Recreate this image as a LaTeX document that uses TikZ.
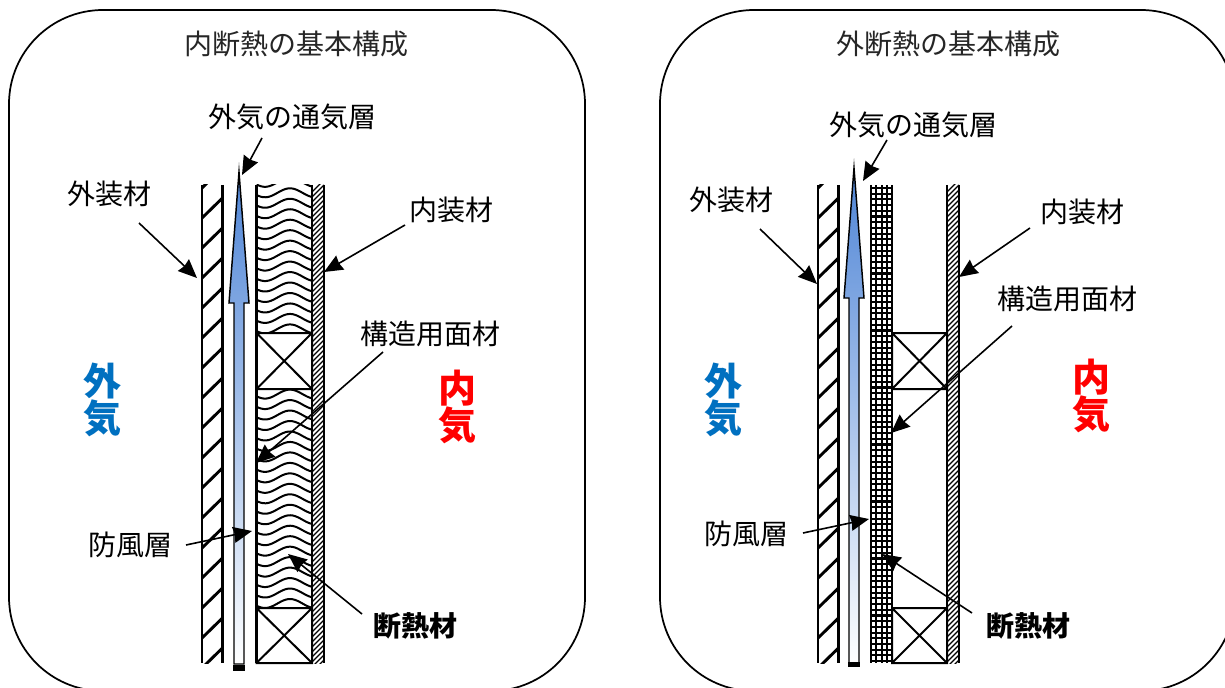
\documentclass[tikz,border=0pt]{standalone}
\usepackage{fontspec}
\setmainfont{Noto Sans CJK JP}
\usetikzlibrary{arrows.meta}
\definecolor{airblue}{RGB}{79,133,214}
\definecolor{sideblue}{RGB}{0,112,192}
\tikzset{
  panel/.style={draw=black,line width=1.3pt,rounded corners=70.5pt},
  wall/.style={line width=2.1pt,black},
  slash/.style={line width=2.2pt,black},
  fine/.style={line width=1.0pt,black},
  wave/.style={line width=1.5pt,black,line join=round},
  cross/.style={line width=1.5pt,black},
  mesh/.style={line width=1.55pt,black},
  ptr/.style={line width=1.2pt,black,-{Stealth[length=14pt,width=12pt,inset=1pt]}},
  title/.style={inner sep=0pt,font=\fontsize{21pt}{24pt}\selectfont,text=black!85},
  label/.style={inner sep=0pt,font=\fontsize{21pt}{24pt}\selectfont},
  boldlabel/.style={inner sep=0pt,font=\fontsize{21pt}{24pt}\selectfont\bfseries},
  side/.style={inner sep=0pt,align=center,text width=40pt,font=\fontsize{28.5pt}{27pt}\selectfont\bfseries},
  air/.style={draw=black,line width=1.1pt,miter limit=20,shade,top color=airblue,bottom color=white,shading angle=0}
}
\newcommand{\outerwall}[1]{% #1 = left x
  \draw[wall] (#1,185) -- (#1,663) (#1+20.5,185) -- (#1+20.5,663);
  \begin{scope}
    \clip (#1,185) rectangle (#1+20.5,663);
    \foreach \k in {-1,...,15} {\draw[slash] (#1,218+30*\k) -- (#1+20.5,198+30*\k);}
  \end{scope}
}
\newcommand{\innerboard}[1]{% #1 = left x
  \draw[wall] (#1,185) -- (#1,663) (#1+12,185) -- (#1+12,663);
  \begin{scope}
    \clip (#1,185) rectangle (#1+12,663);
    \foreach \k in {-1,...,96} {\draw[fine] (#1,197+5*\k) -- (#1+12,185+5*\k);}
  \end{scope}
}
\newcommand{\stud}[4]{% left, right, top, bottom
  \draw[cross] (#1,#3) rectangle (#2,#4) (#1,#3) -- (#2,#4) (#1,#4) -- (#2,#3);
}
\newcommand{\airarrow}[3]{% centre x, tip y, head base y
  \path[air] (#1,#2) -- (#1+10,#3) -- (#1+5,#3) -- (#1+5,664) -- (#1-5,664) -- (#1-5,#3) -- (#1-10,#3) -- cycle;
}
\begin{document}
\begin{tikzpicture}[x=0.75pt,y=-0.75pt]
\clip (0,0) rectangle (1225,688);
\fill[white] (0,0) rectangle (1225,688);
\draw[panel] (9,10) rectangle (585,691);
\draw[panel] (660,10) rectangle (1235,691);

% ---------- left: inner insulation
\outerwall{202}
\draw[wall] (256.5,185) -- (256.5,663);
\begin{scope}
  \clip (256.5,185) rectangle (312,333);
  \foreach \k in {-1,...,14} {
    \draw[wave] plot[smooth,domain=256.5:312,samples=24] (\x,{188.3+4.5+10.47*\k-4.5*cos(7.2*(\x-290))});
  }
\end{scope}
\begin{scope}
  \clip (256.5,389) rectangle (312,608);
  \foreach \k in {0,...,21} {
    \draw[wave] plot[smooth,domain=256.5:312,samples=24] (\x,{599+4.5-10.47*\k-4.5*cos(7.2*(\x-290))});
  }
\end{scope}
\stud{256.5}{312}{333}{389}
\stud{256.5}{312}{608}{663}
\innerboard{312}
\airarrow{239}{172}{303}
\fill[black] (233,665) rectangle (245,670.5);

% ---------- right: outer insulation
\outerwall{818}
\foreach \xx in {871,876.3,881.7,887.3,891.7} {\draw[mesh] (\xx,185) -- (\xx,663);}
\foreach \k in {0,...,83} {\draw[mesh] (871,188+5.7*\k) -- (891.7,188+5.7*\k);}
\stud{892}{947}{333}{389}
\stud{892}{947}{608}{663}
\innerboard{947}
\airarrow{854}{168}{298}
\fill[black] (848,662) rectangle (860,667);

% ---------- text
\node[title] (ttlL) at (296,44) {内断熱の基本構成};
\node[title] (ttlR) at (948,44) {外断熱の基本構成};

\node[label] (tvL) at (292,117) {外気の通気層};
\node[label] (gaiL) at (109,194) {外装材};
\node[label] (naiL) at (451,210) {内装材};
\node[label] (kozoL) at (430,334) {構造用面材};
\node[label] (bofL) at (130,545) {防風層};
\node[boldlabel] (danL) at (415,626) {断熱材};

\node[label] (tvR) at (913,125) {外気の通気層};
\node[label] (gaiR) at (731,200) {外装材};
\node[label] (naiR) at (1082,212) {内装材};
\node[label] (kozoR) at (1067,299) {構造用面材};
\node[label] (bofR) at (746,534) {防風層};
\node[boldlabel] (danR) at (1028,626) {断熱材};

\node[side,text=sideblue] (outL) at (102,400) {外\\気};
\node[side,text=sideblue] (outR) at (723,400) {外\\気};
\node[side,text=red] (inL) at (457,407) {内\\気};
\node[side,text=red] (inR) at (1091,396) {内\\気};

% ---------- connector ends
\coordinate (tTvL) at (242,175);
\coordinate (tGaiL) at (197,278);
\coordinate (tNaiL) at (324,272);
\coordinate (tKozoL) at (256,463);
\coordinate (tBofL) at (252,531);
\coordinate (tDanL) at (288,554);
\coordinate (tTvR) at (863,181);
\coordinate (tGaiR) at (817,284);
\coordinate (tNaiR) at (959,277);
\coordinate (tKozoR) at (891,433);
\coordinate (tBofR) at (869,519);
\coordinate (tDanR) at (882,554);

\draw[ptr] ([shift={(-30,21)}]tvL.center) -- (tTvL);
\draw[ptr] ([shift={(30,29)}]gaiL.center) -- (tGaiL);
\draw[ptr] ([shift={(-46,15)}]naiL.center) -- (tNaiL);
\draw[ptr] ([shift={(-47,18)}]kozoL.center) -- (tKozoL);
\draw[ptr] ([shift={(56,0)}]bofL.center) -- (tBofL);
\draw[ptr] ([shift={(-53,-12)}]danL.center) -- (tDanL);
\draw[ptr] ([shift={(-26,15)}]tvR.center) -- (tTvR);
\draw[ptr] ([shift={(29,29)}]gaiR.center) -- (tGaiR);
\draw[ptr] ([shift={(-52,16)}]naiR.center) -- (tNaiR);
\draw[ptr] ([shift={(-55,27)}]kozoR.center) -- (tKozoR);
\draw[ptr] ([shift={(57,-1)}]bofR.center) -- (tBofR);
\draw[ptr] ([shift={(-56,-13)}]danR.center) -- (tDanR);
\end{tikzpicture}
\end{document}
